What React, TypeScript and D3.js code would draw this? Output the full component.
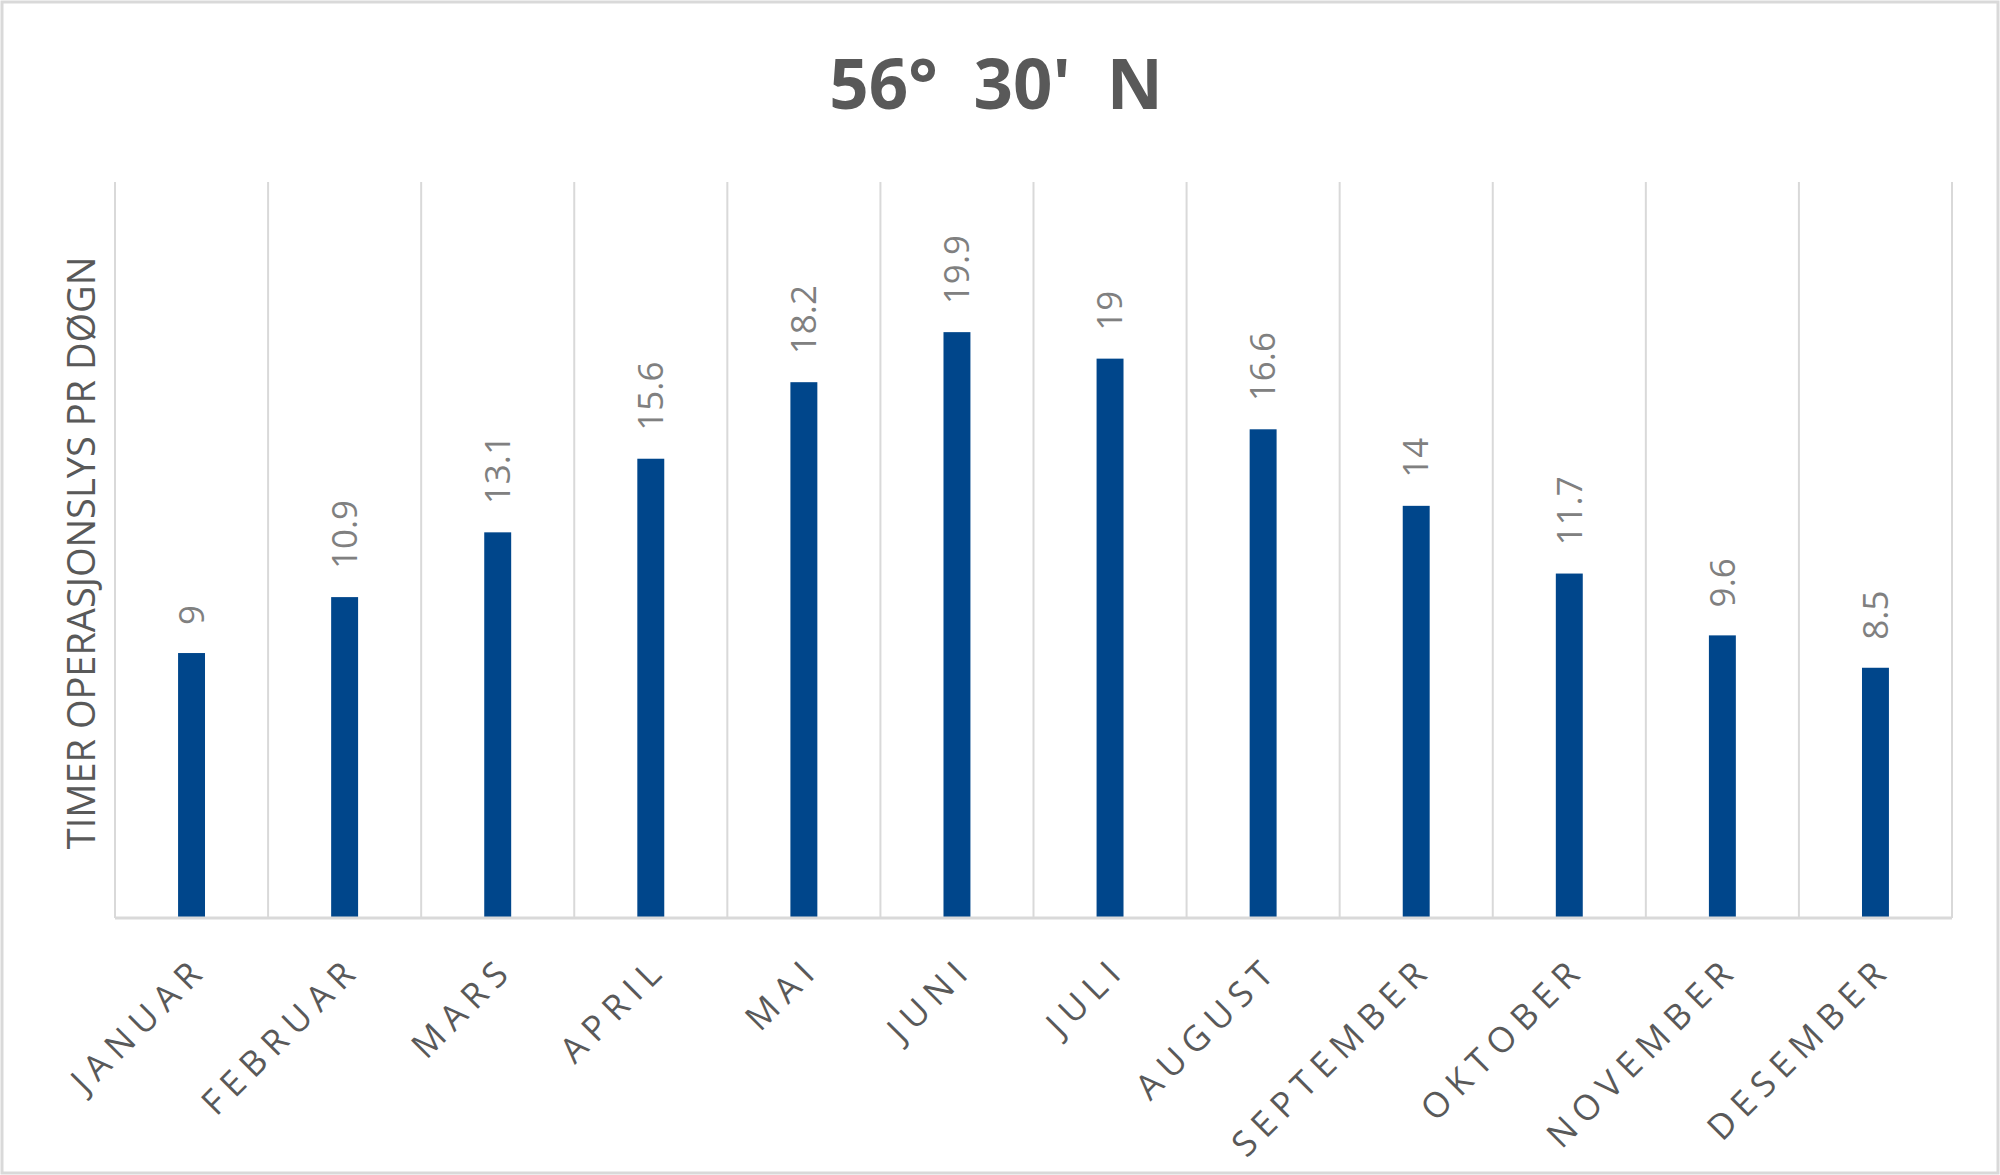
import React, { useRef, useEffect } from 'react';
import * as d3 from 'd3';

// month names (Norwegian) and hours of operation light per day
const months = [
  'JANUAR', 'FEBRUAR', 'MARS', 'APRIL', 'MAI', 'JUNI',
  'JULI', 'AUGUST', 'SEPTEMBER', 'OKTOBER', 'NOVEMBER', 'DESEMBER',
];
const hours = [9, 10.9, 13.1, 15.6, 18.2, 19.9, 19, 16.6, 14, 11.7, 9.6, 8.5];
const yDomain = [0, 25];

const chartTitle = "56°  30'  N";
const yTitle = 'TIMER OPERASJONSLYS PR DØGN';

const W = 2000;
const H = 1175;

const App: React.FC = () => {
  const svgRef = useRef<SVGSVGElement>(null);

  useEffect(() => {
    if (!svgRef.current) return;
    const svg = d3.select(svgRef.current);
    svg.selectAll('*').remove();

    const margin = { top: 182, right: 48, bottom: 257, left: 115 };
    const width = W - margin.left - margin.right;
    const height = H - margin.top - margin.bottom;

    // outer frame
    svg.append('rect')
      .attr('x', 2).attr('y', 2)
      .attr('width', W - 4).attr('height', H - 4)
      .attr('fill', '#fff')
      .attr('stroke', '#d9d9d9')
      .attr('stroke-width', 3);

    svg.append('text')
      .attr('x', 996)
      .attr('y', 109)
      .attr('text-anchor', 'middle')
      .style('white-space', 'pre')
      .attr('font-family', '"Open Sans", sans-serif')
      .attr('font-weight', 700)
      .attr('font-size', 69)
      .attr('fill', '#595959')
      .text(chartTitle);

    const g = svg.append('g')
      .attr('transform', `translate(${margin.left},${margin.top})`);

    const x = d3.scaleBand<string>()
      .domain(months)
      .range([0, width])
      .padding(0);

    const y = d3.scaleLinear()
      .domain(yDomain)
      .range([height, 0]);

    // vertical grid lines at category boundaries
    const bounds = d3.range(months.length + 1).map(i => i * x.step());
    g.selectAll('.grid')
      .data(bounds)
      .enter()
      .append('line')
      .attr('x1', d => d).attr('x2', d => d)
      .attr('y1', 0).attr('y2', height)
      .attr('stroke', '#d9d9d9')
      .attr('stroke-width', 2);

    // bars
    const barW = x.bandwidth() * 0.176;
    g.selectAll('.bar')
      .data(hours)
      .enter()
      .append('rect')
      .attr('x', (_, i) => (x(months[i]) || 0) + x.bandwidth() / 2 - barW / 2)
      .attr('y', d => y(d))
      .attr('width', barW)
      .attr('height', d => height - y(d))
      .attr('fill', '#00468b');

    // baseline
    g.append('line')
      .attr('x1', 0).attr('x2', width)
      .attr('y1', height).attr('y2', height)
      .attr('stroke', '#d9d9d9')
      .attr('stroke-width', 3);

    // data labels, rotated
    g.selectAll('.lbl')
      .data(hours)
      .enter()
      .append('text')
      .attr('transform', (d, i) =>
        `translate(${(x(months[i]) || 0) + x.bandwidth() / 2},${y(d) - 28}) rotate(-90)`)
      .attr('dy', '0.35em')
      .attr('text-anchor', 'start')
      .attr('font-family', '"Open Sans", sans-serif')
      .attr('font-size', 35)
      .attr('fill', '#808080')
      .text(d => String(d));

    // category labels at -45 degrees
    g.selectAll('.cat')
      .data(months)
      .enter()
      .append('text')
      .attr('transform', d =>
        `translate(${(x(d) || 0) + x.bandwidth() / 2 + 18},${height + 53}) rotate(-45)`)
      .attr('text-anchor', 'end')
      .attr('font-family', '"Open Sans", sans-serif')
      .attr('font-size', 35)
      .attr('letter-spacing', 8)
      .attr('fill', '#595959')
      .text(d => d);

    // y axis title
    svg.append('text')
      .attr('transform', `translate(95,553) rotate(-90)`)
      .attr('text-anchor', 'middle')
      .attr('font-family', '"Open Sans", sans-serif')
      .attr('font-size', 38)
      .attr('fill', '#595959')
      .text(yTitle);
  }, []);

  return (
    <svg
      ref={svgRef}
      width={W}
      height={H}
      style={{ position: 'absolute', left: 0, top: 0 }}
    />
  );
};

export default App;
